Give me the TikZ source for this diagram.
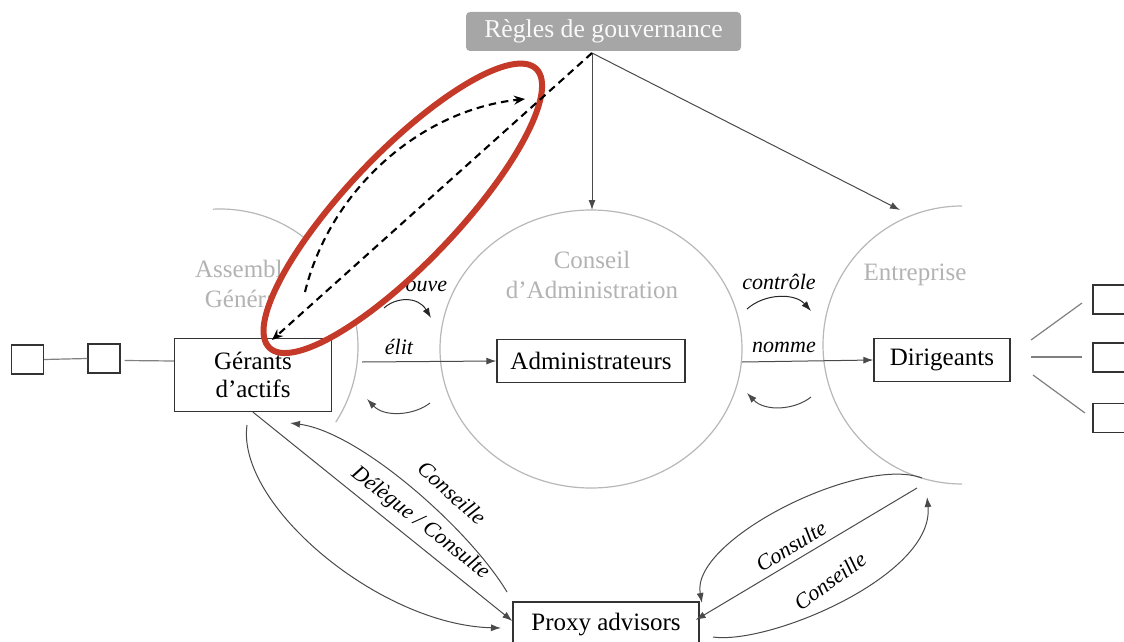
\documentclass[tikz,border=0pt]{standalone}
\usepackage{fontspec}
\setmainfont{Liberation Serif}
\usetikzlibrary{arrows.meta,calc}
\definecolor{circ}{HTML}{B8B8B8}
\definecolor{gtext}{HTML}{B3B3B3}
\definecolor{rbox}{HTML}{A6A6A6}
\definecolor{hred}{HTML}{C43928}
\definecolor{edge}{HTML}{333333}
\definecolor{conn}{HTML}{4A4A4A}
\definecolor{sqline}{HTML}{808080}
\begin{document}
\begin{tikzpicture}[x=1pt,y=-1pt,
  box/.style={draw=edge, line width=1.3pt, fill=white, inner sep=0pt, font=\fontsize{25}{28}\selectfont, align=center},
  sq/.style={draw=edge, line width=1.3pt, fill=white, inner sep=0pt, minimum width=32pt, minimum height=29pt},
  graylbl/.style={text=gtext, font=\fontsize{25}{30}\selectfont, align=center, inner sep=0pt},
  lbl/.style={font=\fontsize{22}{26}\selectfont\itshape, inner sep=0pt},
  conn/.style={draw=conn, line width=1pt, -{Latex[length=10pt,width=7pt]}},
  smallarc/.style={draw=black!85, line width=1pt, -{Latex[length=10pt,width=7pt]}},
  dashline/.style={draw=black, line width=2.1pt, dash pattern=on 7.5pt off 5pt, -{Stealth[length=11pt,width=9pt]}},
  circle line/.style={draw=circ, line width=1.2pt}
]
\useasboundingbox (0,0) rectangle (1124,642);
\clip (0,0) rectangle (1124,642);
\fill[white] (0,0) rectangle (1124,642);

% circles
\draw[circle line] (591,349) ellipse [x radius=151, y radius=139];
\draw[circle line] (962,345) ++(-90:139) arc[start angle=-90, end angle=-270, radius=139];
\draw[circle line] (220,347) ++(-93:138) arc[start angle=-93, end angle=33, radius=138];

% gray circle titles
\node[graylbl] (ag) at (250,283.5) {Assemblée\\Générale};
\node[graylbl] (ca) at (592,275) {Conseil\\d’Administration};
\node[graylbl] (en) at (915,275) {Entreprise};

% approuve / controle
\node[lbl] (appr) at (406,289) {approuve};
\draw[smallarc] (384,308) .. controls (396,297) and (418,296) .. (431,318);
\node[lbl] (ctrl) at (779,282) {contrôle};
\draw[smallarc] (747,309) .. controls (765,293) and (795,293) .. (811,311);

% white interior of highlight
\fill[white, rotate around={46.3:(402.8,208.3)}] (402.8,208.3) ellipse [x radius=193, y radius=55.5];

% regles
\node[fill=rbox, rounded corners=4pt, text=white!95!gray, minimum width=275pt, minimum height=39pt, inner sep=0pt,
      font=\fontsize{25.7}{28}\selectfont] (regles) at (603.5,31.5) {Règles de gouvernance};
\coordinate (rs) at (592,53);
\coordinate (catop) at (592,210);
\coordinate (entop) at (900,210);
\draw[conn] (rs) -- (catop);
\draw[conn] (rs) -- (entop);

% boxes
\node[box, minimum width=157pt, minimum height=73pt] (ger) at (253,375) {Gérants\\d’actifs};
\node[box, minimum width=188pt, minimum height=43pt] (adm) at (591,361) {Administrateurs};
\node[box, minimum width=136pt, minimum height=43pt] (dir) at (942,360) {Dirigeants};
\node[box, minimum width=186pt, minimum height=46pt] (px) at (606,625) {Proxy advisors};

% left squares
\node[sq] (s1) at (27.5,359.5) {};
\node[sq] (s2) at (104,358.5) {};
\draw[sqline, line width=1.2pt] (s1.east) -- (s2.west);
\draw[sqline, line width=1.2pt] ($(s2.east)+(4,2)$) -- ($(ger.west)+(0,-14)$);

% right squares
\node[sq] (r1) at (1109,299.5) {};
\node[sq] (r2) at (1109,357.5) {};
\node[sq] (r3) at (1109,418) {};
\coordinate (l1a) at (1031,340); \coordinate (l1b) at (1082,303);
\coordinate (l2a) at (1031,357); \coordinate (l2b) at (1082,357);
\coordinate (l3a) at (1033,375); \coordinate (l3b) at (1085,413);
\draw[sqline, line width=1.2pt] (l1a) -- (l1b);
\draw[sqline, line width=1.2pt] (l2a) -- (l2b);
\draw[sqline, line width=1.2pt] (l3a) -- (l3b);

% elit / nomme
\coordinate (elitstart) at (362,362);
\draw[conn] (elitstart) -- (adm.west);
\node[lbl] (elit) at (399,347) {élit};
\coordinate (nomstart) at (742,362);
\draw[conn] (nomstart) -- (dir.west);
\node[lbl] (nomme) at (784,347) {nomme};

% return arcs
\draw[conn] (430,403) .. controls (415,415) and (385,418) .. (367,399);
\draw[conn] (811,397) .. controls (795,410) and (765,412) .. (747,393);

% Gerants <-> Proxy
\draw[conn] (ger.south) -- ($(px.west)+(0,-4)$);
\node[lbl, rotate=-38] (deleg) at (420,523) {Délègue / Consulte};
\draw[conn] (507,592) .. controls (470,530) and (360,432) .. (290,423);
\node[lbl, rotate=-42] (cons1) at (452,493) {Conseille};
\draw[conn] (247,425) .. controls (236,505) and (380,625) .. (501,628);

% Proxy <-> Entreprise
\draw[conn] (917,488) -- ($(px.east)+(-4,-5)$);
\node[lbl, rotate=31.5] (consu) at (791,546) {Consulte};
\draw[conn] (922,478) .. controls (860,455) and (690,540) .. (702,603);
\draw[conn] (713,637) .. controls (770,645) and (935,575) .. (927,497);
\node[lbl, rotate=36] (cons2) at (830,581) {Conseille};

% red highlight
\draw[hred, line width=6pt, rotate around={46.3:(402.8,208.3)}] (402.8,208.3) ellipse [x radius=193, y radius=55.5];

% dashed arrows
\coordinate (dashend) at (272,340);
\draw[dashline] (rs) -- (dashend);
\coordinate (curvestart) at (305,292);
\coordinate (curveend) at (525,99);
\draw[dashline] (curvestart) .. controls (330,190) and (420,110) .. (curveend);
\end{tikzpicture}
\end{document}
